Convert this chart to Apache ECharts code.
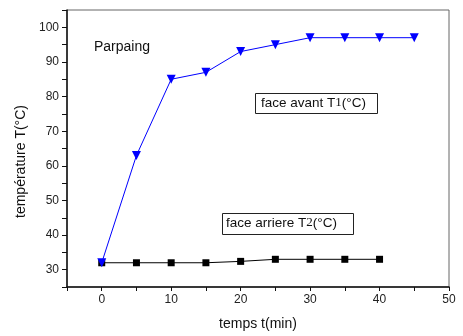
<!DOCTYPE html>
<html>
<head>
<meta charset="utf-8">
<script src="https://cdn.jsdelivr.net/npm/echarts@6/dist/echarts.min.js"></script>
<style>html,body{margin:0;padding:0;background:#fff}#c{width:463px;height:336px}</style>
</head>
<body>
<div id="c"></div>
<script>
const times = [0, 5, 10, 15, 20, 25, 30, 35, 40, 45];
const faceAvant = [32, 63, 85, 87, 93, 95, 97, 97, 97, 97];
const timesArriere = [0, 5, 10, 15, 20, 25, 30, 35, 40];
const faceArriere = [32, 32, 32, 32, 32.4, 33, 33, 33, 33];
const xTickLabels = [0, 10, 20, 30, 40, 50];
const yTickLabels = [30, 40, 50, 60, 70, 80, 90, 100];

const font = '"Liberation Sans", Arial, sans-serif';
const chart = echarts.init(document.getElementById('c'));
chart.setOption({
  animation: false,
  backgroundColor: '#fff',
  grid: { left: 67, top: 10, right: 14, bottom: 44, show: true, borderColor: '#666', borderWidth: 1 },
  xAxis: {
    type: 'value', min: -5, max: 50, interval: 5,
    name: 'temps t(min)', nameLocation: 'middle', nameGap: 30,
    nameTextStyle: { fontFamily: font, fontSize: 14, color: '#111' },
    axisLine: { onZero: false, lineStyle: { color: '#111', width: 1.5 } },
    axisTick: { length: 4, lineStyle: { color: '#111' } },
    splitLine: { show: false },
    axisLabel: { fontFamily: font, fontSize: 12, color: '#222', margin: 7,
      formatter: v => xTickLabels.includes(v) ? String(v) : '' }
  },
  yAxis: {
    type: 'value', min: 25, max: 105, interval: 5,
    name: 'température T(°C)', nameLocation: 'middle', nameGap: 34,
    nameTextStyle: { fontFamily: font, fontSize: 14, color: '#111', padding: [0, 26, 0, 0] },
    axisLine: { onZero: false, lineStyle: { color: '#111', width: 1.5 } },
    axisTick: { length: 5, lineStyle: { color: '#111' } },
    splitLine: { show: false },
    axisLabel: { fontFamily: font, fontSize: 12, color: '#222', margin: 8,
      formatter: v => yTickLabels.includes(v) ? String(v) : '' }
  },
  series: [
    {
      type: 'line', data: timesArriere.map((t, i) => [t, faceArriere[i]]),
      symbol: 'rect', symbolSize: 7, color: '#000',
      lineStyle: { color: '#000', width: 1 }, itemStyle: { color: '#000' }
    },
    {
      type: 'line', data: times.map((t, i) => [t, faceAvant[i]]),
      symbol: 'triangle', symbolRotate: 180, symbolSize: 9, color: '#0000ff',
      lineStyle: { color: '#0000ff', width: 1 }, itemStyle: { color: '#0000ff' }
    }
  ],
  graphic: [
    { type: 'text', left: 94, top: 40, style: { text: 'Parpaing', fontFamily: font, fontSize: 14, fill: '#111' } },
    { type: 'rect', shape: { x: 255.5, y: 93.5, width: 122, height: 20 }, style: { fill: '#fff', stroke: '#222', lineWidth: 1 } },
    { type: 'text', left: 261, top: 96, style: {
      text: '{a|face avant T}{s|1}{a|(°C)}',
      rich: { a: { fontFamily: font, fontSize: 13.5, fill: '#111' }, s: { fontFamily: '"Liberation Serif", serif', fontSize: 13, fill: '#111' } } } },
    { type: 'rect', shape: { x: 222.5, y: 213.5, width: 131, height: 21 }, style: { fill: '#fff', stroke: '#222', lineWidth: 1 } },
    { type: 'text', left: 226, top: 216, style: {
      text: '{a|face arriere T}{s|2}{a|(°C)}',
      rich: { a: { fontFamily: font, fontSize: 13.5, fill: '#111' }, s: { fontFamily: '"Liberation Serif", serif', fontSize: 13, fill: '#111' } } } }
  ]
});
</script>
</body>
</html>
